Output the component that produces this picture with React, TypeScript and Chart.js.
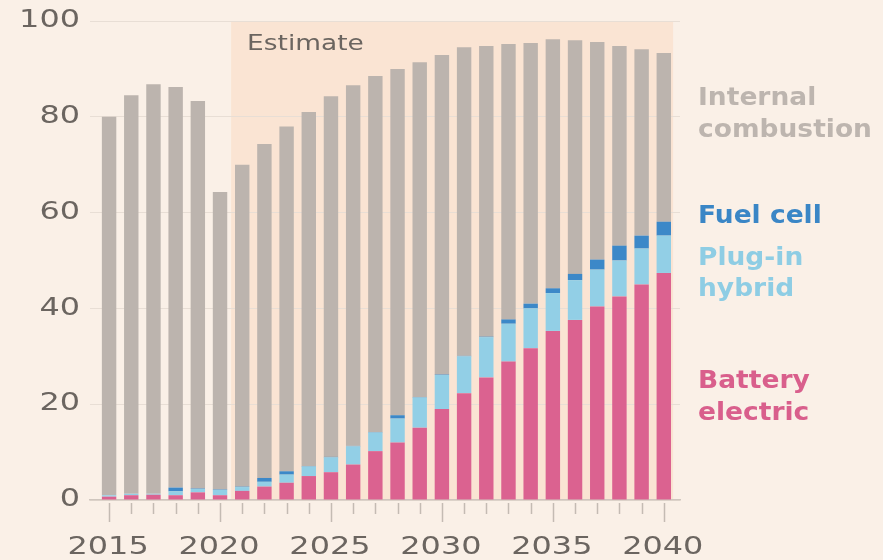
import React, { useEffect, useRef } from "react";
import { Chart, registerables } from "chart.js";
Chart.register(...registerables);

const YEARS = [2015, 2016, 2017, 2018, 2019, 2020, 2021, 2022, 2023, 2024, 2025, 2026, 2027, 2028, 2029, 2030, 2031, 2032, 2033, 2034, 2035, 2036, 2037, 2038, 2039, 2040];
const BATTERY_ELECTRIC = [0.7, 1.0, 1.1, 1.0, 1.6, 1.0, 1.9, 2.8, 3.6, 5.0, 5.8, 7.4, 10.2, 12.0, 15.1, 19.0, 22.3, 25.6, 28.9, 31.7, 35.3, 37.6, 40.4, 42.5, 45.0, 47.4];
const PLUG_IN_HYBRID = [0.3, 0.3, 0.2, 0.8, 0.7, 1.1, 0.8, 1.0, 1.7, 2.0, 3.1, 3.8, 3.9, 5.0, 6.3, 7.1, 7.7, 8.4, 7.9, 8.3, 7.9, 8.3, 7.7, 7.5, 7.5, 7.8];
const FUEL_CELL = [0, 0, 0, 0.8, 0.1, 0.1, 0.1, 0.8, 0.7, 0.1, 0.1, 0.1, 0.1, 0.7, 0.1, 0.1, 0.1, 0.1, 0.9, 1.0, 1.0, 1.3, 2.1, 3.1, 2.7, 2.9];
const INTERNAL_COMBUSTION = [79.0, 83.2, 85.5, 83.6, 80.9, 62.1, 67.2, 69.7, 72.0, 73.9, 75.3, 75.3, 74.3, 72.3, 69.9, 66.7, 64.4, 60.7, 57.5, 54.4, 52.0, 48.8, 45.4, 41.7, 38.9, 35.2];
const Y_TICKS = [0, 20, 40, 60, 80, 100];
const LABELED_YEARS = [2015, 2020, 2025, 2030, 2035, 2040];
const ESTIMATE_FROM = 2021;
const ESTIMATE_TO = 2040;
const ESTIMATE_LABEL = "Estimate";
const LEGEND_LINES = [
  { text: "Internal", color: "#BDB5AF" },
  { text: "combustion", color: "#BDB5AF" },
  { text: "Fuel cell", color: "#3A86C6" },
  { text: "Plug-in", color: "#8ECDE4" },
  { text: "hybrid", color: "#8ECDE4" },
  { text: "Battery", color: "#D95F8C" },
  { text: "electric", color: "#D95F8C" },
];
const LEGEND_BASELINES = [105, 137, 223, 265, 296, 388, 420];

const BG = "#FAF0E7";
const SHADE = "#FAE4D3";
const TEXT = "#6B6560";
const FONT = "'DejaVu Sans', sans-serif";
const STRETCH = 1.33;

const toPoints = (vals: number[]) => vals.map((v, i) => ({ x: YEARS[i], y: v }));

function wideText(ctx: CanvasRenderingContext2D, text: string, x: number, y: number, align: "left" | "center" | "right", sx: number) {
  const w = ctx.measureText(text).width * sx;
  let left = x;
  if (align === "center") left = x - w / 2;
  if (align === "right") left = x - w;
  ctx.save();
  ctx.translate(left, y);
  ctx.scale(sx, 1);
  ctx.textAlign = "left";
  ctx.fillText(text, 0, 0);
  ctx.restore();
}

const decorPlugin = {
  id: "decor",
  beforeDraw(chart: any) {
    const { ctx, chartArea, scales } = chart;
    const x = scales.x;
    const y = scales.y;
    const left = x.getPixelForValue(ESTIMATE_FROM - 0.5);
    const right = x.getPixelForValue(ESTIMATE_TO + 0.42);
    const top = y.getPixelForValue(100) + 1;
    ctx.save();
    ctx.fillStyle = SHADE;
    ctx.fillRect(left, top, right - left, chartArea.bottom - top);
    ctx.restore();
  },
  afterDraw(chart: any) {
    const { ctx, chartArea, scales } = chart;
    const x = scales.x;
    const y = scales.y;
    ctx.save();
    // tick marks
    ctx.strokeStyle = "#C4BBB3";
    ctx.lineWidth = 1.5;
    YEARS.forEach((yr) => {
      const px = Math.round(x.getPixelForValue(yr)) + 0.5;
      const major = LABELED_YEARS.includes(yr);
      ctx.beginPath();
      ctx.moveTo(px, chartArea.bottom + 3);
      ctx.lineTo(px, chartArea.bottom + (major ? 22 : 14));
      ctx.stroke();
    });
    // axis labels
    ctx.fillStyle = TEXT;
    ctx.font = `24px ${FONT}`;
    ctx.textBaseline = "middle";
    Y_TICKS.forEach((v) => {
      wideText(ctx, String(v), 80, y.getPixelForValue(v), "right", STRETCH);
    });
    ctx.textBaseline = "alphabetic";
    LABELED_YEARS.forEach((yr) => {
      wideText(ctx, String(yr), x.getPixelForValue(yr) - 1, 554, "center", STRETCH);
    });
    // estimate label
    ctx.font = `22px ${FONT}`;
    wideText(ctx, ESTIMATE_LABEL, x.getPixelForValue(ESTIMATE_FROM - 0.5) + 16, 50, "left", 1.2);
    // legend labels
    ctx.font = `bold 25px ${FONT}`;
    LEGEND_LINES.forEach((l, i) => {
      ctx.fillStyle = l.color;
      wideText(ctx, l.text, 698, LEGEND_BASELINES[i], "left", 1.06);
    });
    ctx.restore();
  },
};

export default function App() {
  const ref = useRef<HTMLCanvasElement>(null);
  useEffect(() => {
    if (!ref.current) return;
    const chart = new Chart(ref.current, {
      type: "bar",
      data: {
        datasets: [
          { label: "Battery electric", data: toPoints(BATTERY_ELECTRIC), backgroundColor: "#DB6290" },
          { label: "Plug-in hybrid", data: toPoints(PLUG_IN_HYBRID), backgroundColor: "#92CFE6" },
          { label: "Fuel cell", data: toPoints(FUEL_CELL), backgroundColor: "#3C88C8" },
          { label: "Internal combustion", data: toPoints(INTERNAL_COMBUSTION), backgroundColor: "#BCB4AE" },
        ],
      },
      options: {
        responsive: false,
        animation: false,
        events: [],
        layout: { padding: { top: 21, right: 203, bottom: 0, left: 0 } },
        datasets: { bar: { barPercentage: 0.65, categoryPercentage: 1, borderWidth: 0 } } as any,
        plugins: { legend: { display: false }, tooltip: { enabled: false } },
        scales: {
          x: {
            type: "linear",
            min: 2014.14,
            max: 2040.73,
            stacked: true,
            offset: false,
            grid: { display: false, drawTicks: false },
            border: { display: true, color: "#CFC6BE", width: 1.5 },
            afterBuildTicks: (s: any) => {
              s.ticks = LABELED_YEARS.map((v) => ({ value: v }));
            },
            afterFit: (s: any) => {
              s.height = 60;
            },
            ticks: { display: false },
          },
          y: {
            min: 0,
            max: 100,
            stacked: true,
            afterBuildTicks: (s: any) => {
              s.ticks = Y_TICKS.map((v) => ({ value: v }));
            },
            afterFit: (s: any) => {
              s.width = 90;
            },
            grid: { color: "#E8DED5", lineWidth: 1, drawTicks: false },
            border: { display: false },
            ticks: { display: false },
          },
        },
      },
      plugins: [decorPlugin],
    });
    return () => chart.destroy();
  }, []);
  return (
    <div style={{ position: "fixed", left: 0, top: 0, width: 883, height: 560, background: BG, overflow: "hidden" }}>
      <canvas ref={ref} width={883} height={560} />
    </div>
  );
}
